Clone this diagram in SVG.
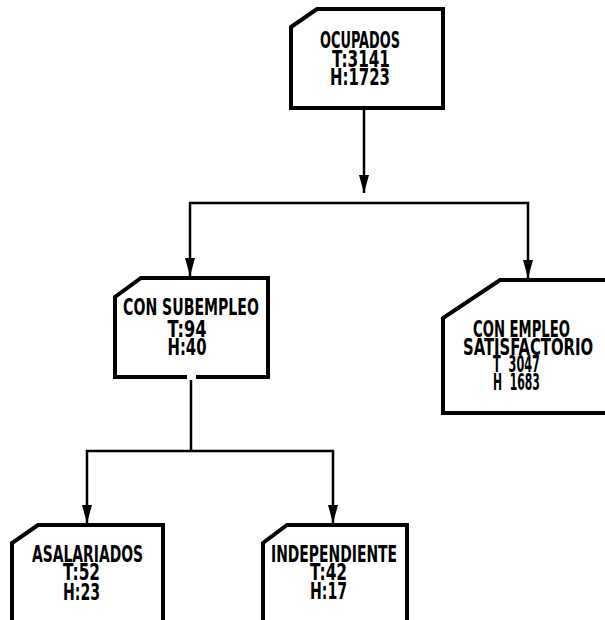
<svg xmlns="http://www.w3.org/2000/svg" width="605" height="620" viewBox="0 0 605 620">
<defs>
<style>
.box{fill:#fff;stroke:#000;stroke-width:4;stroke-linejoin:miter}
.conn{fill:none;stroke:#000;stroke-width:2.5}
.t{font-family:"DejaVu Sans Condensed","DejaVu Sans","Liberation Sans",sans-serif;font-weight:bold;font-size:23px;fill:#000;text-anchor:middle;white-space:pre}
</style>
<marker id="ah" viewBox="0 0 18 10" markerWidth="18" markerHeight="10" refX="18" refY="5" orient="auto" markerUnits="userSpaceOnUse">
<path d="M0,0 L18,5 L0,10 Z" fill="#000"/>
</marker>
</defs>
<rect width="605" height="620" fill="#fff"/>
<g id="connectors">
<path class="conn" d="M364,108 L364,193" marker-end="url(#ah)"/>
<path class="conn" d="M360,203 L190,203 L190,276" marker-end="url(#ah)"/>
<path class="conn" d="M360,203 L528,203 L528,278" marker-end="url(#ah)"/>
<path class="conn" d="M191,380 L191,451"/>
<path class="conn" d="M191,451 L87,451 L87,523" marker-end="url(#ah)"/>
<path class="conn" d="M191,451 L333,451 L333,523" marker-end="url(#ah)"/>
</g>
<g id="ocupados">
<path class="box" d="M291,27 L317,9 L443,9 L443,108 L291,108 Z"/>
<text class="t" transform="translate(360,48) scale(0.65,1)" textLength="123" lengthAdjust="spacingAndGlyphs">OCUPADOS</text>
<text class="t" transform="translate(361,67) scale(0.65,1)" textLength="89" lengthAdjust="spacingAndGlyphs">T:3141</text>
<text class="t" transform="translate(360,85) scale(0.65,1)" textLength="92" lengthAdjust="spacingAndGlyphs">H:1723</text>
</g>
<g id="con-subempleo">
<path class="box" d="M187,377 L115,377 L115,297 L141,278 L268,278 L268,377 L196,377"/>
<text class="t" transform="translate(191,315) scale(0.65,1)" textLength="209" lengthAdjust="spacingAndGlyphs">CON SUBEMPLEO</text>
<text class="t" transform="translate(187,337) scale(0.65,1)" textLength="60" lengthAdjust="spacingAndGlyphs">T:94</text>
<text class="t" transform="translate(187,355) scale(0.65,1)" textLength="60" lengthAdjust="spacingAndGlyphs">H:40</text>
</g>
<g id="con-empleo-satisfactorio">
<path class="box" d="M612,280 L500,280 L443,318 L443,413 L612,413"/>
<text class="t" transform="translate(521.5,337) scale(0.65,1)" textLength="149" lengthAdjust="spacingAndGlyphs">CON EMPLEO</text>
<text class="t" transform="translate(528,355) scale(0.65,1)" textLength="200" lengthAdjust="spacingAndGlyphs">SATISFACTORIO</text>
<text class="t" xml:space="preserve" transform="translate(516.5,372) scale(0.65,1)" textLength="72" lengthAdjust="spacingAndGlyphs">T  3047</text>
<text class="t" xml:space="preserve" transform="translate(516.5,390) scale(0.65,1)" textLength="72" lengthAdjust="spacingAndGlyphs">H  1683</text>
</g>
<g id="asalariados">
<path class="box" d="M12,625 L12,543 L38,525 L163,525 L163,625"/>
<text class="t" transform="translate(87.5,562) scale(0.65,1)" textLength="171" lengthAdjust="spacingAndGlyphs">ASALARIADOS</text>
<text class="t" transform="translate(81.5,580) scale(0.65,1)" textLength="57" lengthAdjust="spacingAndGlyphs">T:52</text>
<text class="t" transform="translate(81.5,600) scale(0.65,1)" textLength="57" lengthAdjust="spacingAndGlyphs">H:23</text>
</g>
<g id="independiente">
<path class="box" d="M263,625 L263,543 L287,525 L407,525 L407,625"/>
<text class="t" transform="translate(334,562) scale(0.65,1)" textLength="194" lengthAdjust="spacingAndGlyphs">INDEPENDIENTE</text>
<text class="t" transform="translate(328.5,580) scale(0.65,1)" textLength="57" lengthAdjust="spacingAndGlyphs">T:42</text>
<text class="t" transform="translate(328.5,599) scale(0.65,1)" textLength="57" lengthAdjust="spacingAndGlyphs">H:17</text>
</g>
</svg>
